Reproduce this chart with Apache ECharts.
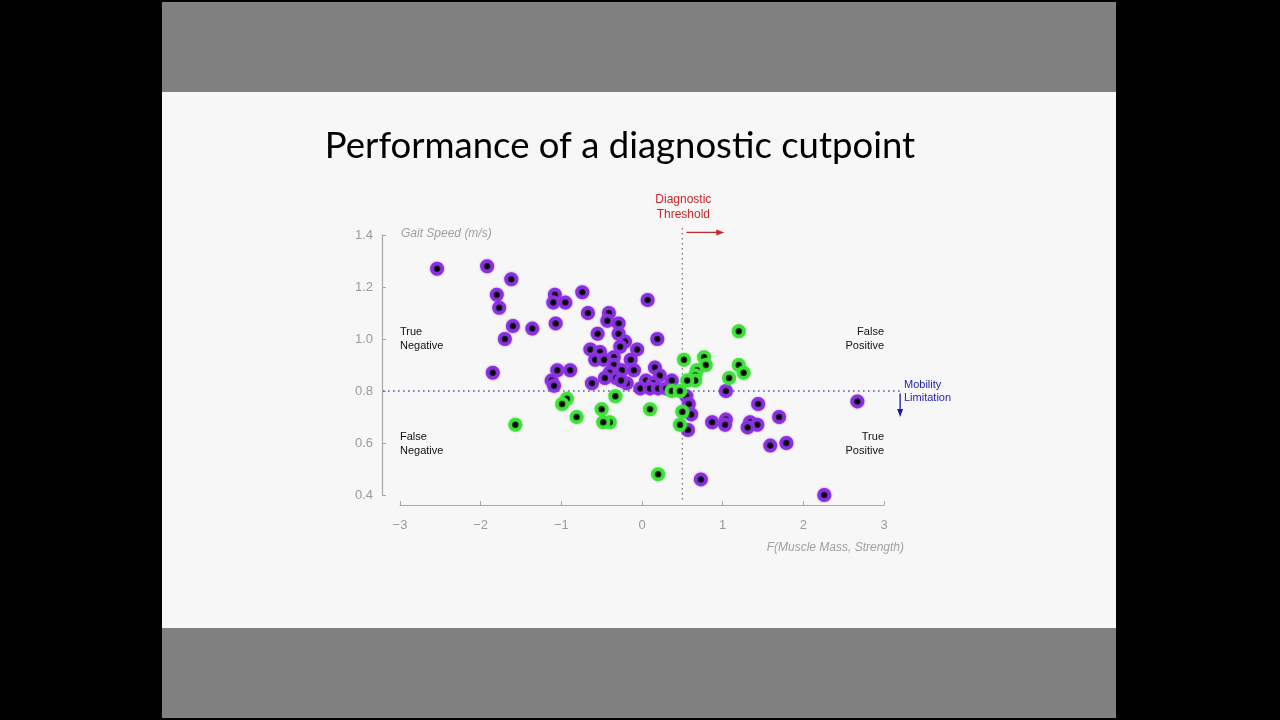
<!DOCTYPE html>
<html>
<head>
<meta charset="utf-8">
<script src="https://cdn.jsdelivr.net/npm/echarts@6/dist/echarts.min.js"></script>
<style>
  html, body { margin:0; padding:0; background:#000; width:1280px; height:720px; overflow:hidden; }
  #slide { position:absolute; left:162px; top:2px; width:954px; height:716px; background:#f7f7f7; }
  #bandTop { position:absolute; left:0; top:0; width:954px; height:90px; background:#808080; }
  #bandBot { position:absolute; left:0; top:626px; width:954px; height:90px; background:#808080; }
  #chart { position:absolute; left:0; top:0; width:1280px; height:720px; }
</style>
</head>
<body>
<div id="slide"><div id="bandTop"></div><div id="bandBot"></div></div>
<div id="chart"></div>
<script>
// ---- data ----
const xTickLabels = ['−3', '−2', '−1', '0', '1', '2', '3'];
const yTickLabels = ['0.4', '0.6', '0.8', '1.0', '1.2', '1.4'];
const diagnosticThreshold = 0.5;
const mobilityLimit = 0.8;

const purpleX = [-2.54,-1.92,-1.62,-1.80,-1.77,-1.60,-1.36,-1.70,-1.85,-1.08,-1.10,-0.95,-0.74,-0.67,-0.41,-0.43,-0.29,-1.07,-0.55,-0.29,
  -0.21,-0.27,-0.64,-0.52,-0.06,-0.35,-0.58,-0.47,-0.14,-0.35,-0.40,-1.05,-0.89,-0.25,-0.10,-0.46,-0.32,-0.19,-0.62,-1.12,
  -1.09,-0.26,0.07,0.19,0.16,0.22,0.05,0.14,-0.02,0.10,0.20,0.30,0.37,0.55,0.58,0.61,0.57,0.87,1.04,1.03,
  1.04,1.44,1.34,1.43,1.31,1.70,1.59,1.79,2.67,0.73,2.26];
const purpleY = [1.27,1.28,1.23,1.17,1.12,1.05,1.04,1.00,0.87,1.17,1.14,1.14,1.18,1.10,1.10,1.07,1.06,1.06,1.02,1.02,
  0.99,0.97,0.96,0.95,0.96,0.93,0.92,0.92,0.92,0.90,0.87,0.88,0.88,0.88,0.88,0.85,0.85,0.83,0.83,0.84,
  0.82,0.84,1.15,1.00,0.89,0.86,0.84,0.83,0.81,0.81,0.81,0.81,0.84,0.78,0.75,0.71,0.65,0.68,0.69,0.67,
  0.80,0.75,0.68,0.67,0.66,0.70,0.59,0.60,0.76,0.46,0.40];

const greenX = [1.20,0.52,0.77,0.79,0.68,0.66,0.66,0.56,0.37,0.47,1.08,1.20,1.26,0.10,0.50,0.47,0.20,-0.93,-0.99,-0.81,-0.50,-0.40,-0.48,-0.33,-1.57];
const greenY = [1.03,0.92,0.93,0.90,0.88,0.86,0.84,0.84,0.80,0.80,0.85,0.90,0.87,0.73,0.72,0.67,0.48,0.77,0.75,0.70,0.73,0.68,0.68,0.78,0.67];

// ---- chart ----
const pts = (xs, ys) => xs.map((x, i) => [x, ys[i]]);
const AXIS_GRAY = '#a8a8a8';
const FONT = '"Liberation Sans", Arial, Helvetica, sans-serif';

const chart = echarts.init(document.getElementById('chart'), null, { renderer: 'canvas' });

const pointStyle = (ring, glow) => ({
  color: '#050505',
  borderColor: ring,
  borderWidth: 3.5,
  shadowBlur: 2,
  shadowColor: glow,
  opacity: 1
});

const option = {
  animation: false,
  backgroundColor: 'transparent',
  grid: { left: 400, width: 484, top: 235, height: 260, containLabel: false },
  xAxis: {
    type: 'value', min: -3, max: 3, interval: 1, offset: 10,
    axisLine: { onZero: false, lineStyle: { color: AXIS_GRAY, width: 1.2 } },
    axisTick: { inside: true, length: 4, lineStyle: { color: AXIS_GRAY } },
    axisLabel: { color: '#9a9a9a', fontSize: 13, fontFamily: FONT, margin: 14,
      formatter: (v) => xTickLabels[Math.round(v) + 3] },
    splitLine: { show: false }
  },
  yAxis: {
    type: 'value', min: 0.4, max: 1.4, interval: 0.2, offset: 18,
    axisLine: { show: true, onZero: false, lineStyle: { color: AXIS_GRAY, width: 1.2 } },
    axisTick: { show: true, inside: true, length: 4, lineStyle: { color: AXIS_GRAY } },
    axisLabel: { color: '#9a9a9a', fontSize: 13, fontFamily: FONT, margin: 9,
      formatter: (v) => yTickLabels[Math.round((v - 0.4) / 0.2)] },
    splitLine: { show: false }
  },
  series: [
    {
      type: 'scatter', name: 'purple', data: pts(purpleX, purpleY), z: 3,
      symbolSize: 10.5, itemStyle: pointStyle('#8a2fe0', 'rgba(160,90,245,0.9)')
    },
    {
      type: 'scatter', name: 'green', data: pts(greenX, greenY), z: 4,
      symbolSize: 10.5, itemStyle: pointStyle('#3ee03a', 'rgba(100,240,90,0.9)')
    }
  ]
};
chart.setOption(option);

const P = (x, y) => chart.convertToPixel({ gridIndex: 0 }, [x, y]);
const tl = P(-3, 1.4), br = P(3, 0.4);
const thr = P(diagnosticThreshold, 1.4);
const mob = P(3, mobilityLimit);

const txt = (x, y, text, o) => ({
  type: 'text', x, y, silent: true, z: 5,
  style: Object.assign({
    text, fill: '#111', font: '11px ' + FONT,
    textAlign: 'left', textVerticalAlign: 'top', align: 'left', verticalAlign: 'top', lineHeight: 14
  }, o)
});
const seg = (a, b, color, dash) => ({
  type: 'line', silent: true, z: 1,
  shape: { x1: a[0], y1: a[1], x2: b[0], y2: b[1] },
  style: { stroke: color, lineWidth: 1.3, lineDash: dash || null }
});
const tri = (p1, p2, p3, color) => ({
  type: 'polygon', silent: true, z: 1,
  shape: { points: [p1, p2, p3] }, style: { fill: color }
});

// guide geometry, from data coordinates
const vTop = P(diagnosticThreshold, 1.427), vBot = P(diagnosticThreshold, 0.37);
const hL = P(-3.21, mobilityLimit), hR = P(3.2, mobilityLimit);
const rA = P(0.55, 1.41), rB = P(1.02, 1.41);
const bA = P(3.2, 0.79), bB = P(3.2, 0.70);
const RED = '#c8262c', BLUE = '#1a1aa0';

chart.setOption({
  graphic: [
    seg(vTop, vBot, '#777777', [1.5, 3.5]),
    seg(hL, hR, '#4a5590', [1.5, 3.5]),
    seg(rA, [rB[0] - 6, rB[1]], RED),
    tri([rB[0], rB[1]], [rB[0] - 8, rB[1] - 3], [rB[0] - 8, rB[1] + 3], RED),
    seg(bA, [bB[0], bB[1] - 6], BLUE),
    tri([bB[0], bB[1]], [bB[0] - 3, bB[1] - 8], [bB[0] + 3, bB[1] - 8], BLUE),
    txt(620, 146, 'Performance of a diagnos\u200Ctic cutpoint', {
      font: '36.5px Lato, "Open Sans", sans-serif', fill: '#000',
      textAlign: 'center', align: 'center', textVerticalAlign: 'middle', verticalAlign: 'middle'
    }),
    txt(tl[0] + 1, tl[1] - 1, 'Gait Speed (m/s)', {
      font: 'italic 12px ' + FONT, fill: '#a0a0a0', textVerticalAlign: 'middle', verticalAlign: 'middle'
    }),
    txt(br[0] + 20, br[1] + 53, 'F(Muscle Mass, Strength)', {
      font: 'italic 12px ' + FONT, fill: '#a0a0a0', textAlign: 'right', align: 'right',
      textVerticalAlign: 'middle', verticalAlign: 'middle'
    }),
    txt(tl[0], tl[1] + 90, 'True\nNegative'),
    txt(br[0], tl[1] + 90, 'False\nPositive', { textAlign: 'right', align: 'right' }),
    txt(tl[0], tl[1] + 195, 'False\nNegative'),
    txt(br[0], tl[1] + 195, 'True\nPositive', { textAlign: 'right', align: 'right' }),
    txt(thr[0] + 1, thr[1] - 43, 'Diagnostic\nThreshold', {
      font: '12px ' + FONT, fill: RED, textAlign: 'center', align: 'center', lineHeight: 15
    }),
    txt(br[0] + 20, mob[1] - 13, 'Mobility\nLimitation', {
      font: '11px ' + FONT, fill: '#2525a8', lineHeight: 13
    })
  ]
});
</script>
</body>
</html>
